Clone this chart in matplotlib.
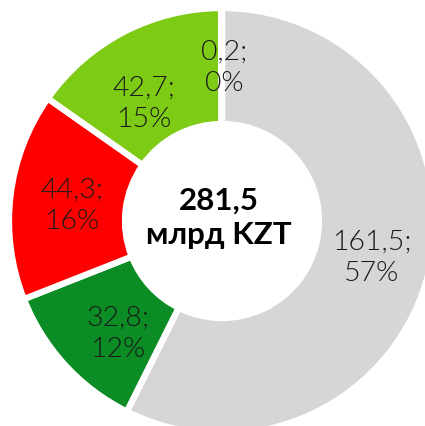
import matplotlib
matplotlib.use("Agg")
import matplotlib.pyplot as plt
import numpy as np

# Data
values = [161.5, 32.8, 44.3, 42.7, 0.2]
labels = ["161,5;\n57%", "32,8;\n12%", "44,3;\n16%", "42,7;\n15%", "0,2;\n0%"]
colors = ["#d6d6d6", "#0c8c24", "#ff0000", "#7ecb16", "#a6a6a6"]
total_text = "281,5\nмлрд KZT"

# label placement tweaks (fraction of radius, clockwise shift in degrees)
label_dist = [0.723, 0.718, 0.709, 0.667, 0.723]
label_shift = [0, -4.6, -0.7, -6, 1]

W, H = 425, 427
fig = plt.figure(figsize=(W / 100, H / 100), dpi=100)
ax = fig.add_axes([0, 0, 1, 1])

cx, cy = 222, H - 222
R = 213
wedges, texts = ax.pie(values, colors=colors, startangle=90, counterclock=False,
                       radius=R, center=(cx, cy),
                       wedgeprops=dict(width=116, edgecolor="white", linewidth=4.5),
                       labels=labels, labeldistance=0.74,
                       textprops=dict(family=["Lato", "DejaVu Sans"], fontweight=300,
                                      fontsize=20.5, color="#1a1a1a",
                                      ha="center", va="center", linespacing=1.32))

for w, t, d, s in zip(wedges, texts, label_dist, label_shift):
    th = np.deg2rad((w.theta1 + w.theta2) / 2 - s)
    t.set_position((cx + d * R * np.cos(th), cy + d * R * np.sin(th)))

ax.text(cx - 3, cy + 4, total_text, ha="center", va="center", fontsize=22.5,
        fontweight="bold", family=["Lato", "DejaVu Sans"], color="black",
        linespacing=1.3)

ax.set_xlim(0, W)
ax.set_ylim(0, H)
ax.set_aspect("equal")
ax.axis("off")

fig.savefig("out.png", dpi=100)
